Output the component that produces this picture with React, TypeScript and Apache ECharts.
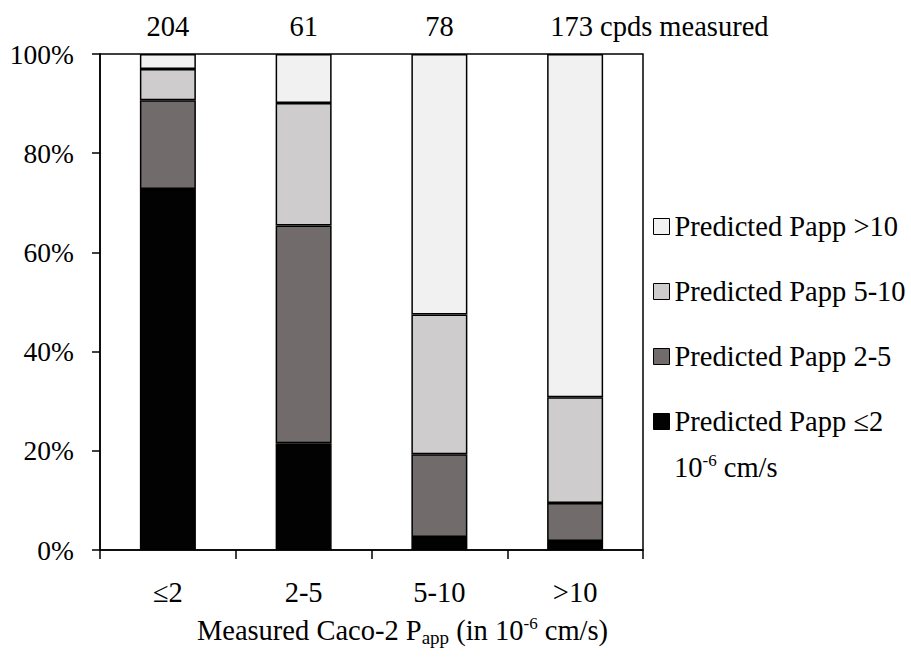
import React, { useEffect, useRef } from "react";
import * as echarts from "echarts";

const categories = ["≤2", "2-5", "5-10", ">10"];
const countsMeasured = [204, 61, 78, 173];
const seriesNames = [
  "Predicted Papp ≤2",
  "Predicted Papp 2-5",
  "Predicted Papp 5-10",
  "Predicted Papp >10",
];
const predLe2 = [72.8, 21.5, 2.6, 1.8];
const pred2to5 = [17.9, 43.9, 16.7, 7.7];
const pred5to10 = [6.3, 24.7, 28.2, 21.3];
const predGt10 = [3.0, 9.9, 52.5, 69.2];
const yTicks = [0, 20, 40, 60, 80, 100];

const colors = ["#020202", "#716b6b", "#cecccd", "#f1f1f1"];
const FONT = "Liberation Serif";

export default function App() {
  const ref = useRef<HTMLDivElement>(null);
  useEffect(() => {
    if (!ref.current) return;
    const chart = echarts.init(ref.current, null, { renderer: "svg" });
    const values = [predLe2, pred2to5, pred5to10, predGt10];
    const series = values.map((vals, si) => ({
      name: seriesNames[si],
      type: "bar",
      stack: "total",
      barWidth: 56,
      itemStyle: { color: colors[si], borderColor: "#000", borderWidth: 1.5 },
      data: vals.map((v, i) => {
        if (si !== 3) return v;
        const last = i === vals.length - 1;
        return {
          value: v,
          label: {
            show: true,
            position: "top",
            distance: 13,
            formatter: last ? `${countsMeasured[i]} cpds measured` : `${countsMeasured[i]}`,
            fontFamily: FONT,
            fontSize: 28.5,
            color: "#000",
            ...(last ? { align: "left", offset: [-25, 0] } : {}),
          },
        };
      }),
    }));
    chart.setOption({
      animation: false,
      textStyle: { fontFamily: FONT },
      grid: {
        left: 100,
        right: 268,
        top: 54,
        bottom: 114,
        show: true,
        borderColor: "#000",
        borderWidth: 1.5,
        backgroundColor: "transparent",
      },
      legend: {
        orient: "vertical",
        left: 653,
        top: 212,
        padding: 0,
        itemWidth: 16,
        itemHeight: 16,
        itemGap: 36,
        icon: "rect",
        data: [seriesNames[3], seriesNames[2], seriesNames[1], seriesNames[0]],
        textStyle: { fontFamily: FONT, fontSize: 28.5, color: "#000" },
        itemStyle: { borderColor: "#000", borderWidth: 1 },
      },
      xAxis: {
        type: "category",
        data: categories,
        axisLine: { lineStyle: { color: "#000", width: 1.5 } },
        axisTick: { show: true, length: 9, lineStyle: { color: "#000", width: 1.5 } },
        axisLabel: { fontFamily: FONT, fontSize: 28.5, color: "#000", margin: 28 },
        name: "{a|Measured Caco-2 P}{sub|app}{a| (in 10}{sup|-6}{a| cm/s)}",
        nameLocation: "middle",
        nameGap: 64,
        nameTextStyle: {
          padding: [0, 0, 0, 62],
          rich: {
            a: { fontFamily: FONT, fontSize: 28.5, color: "#000" },
            sub: { fontFamily: FONT, fontSize: 19, color: "#000", padding: [14, 0, 0, 0] },
            sup: { fontFamily: FONT, fontSize: 17, color: "#000", padding: [0, 0, 14, 0] },
          },
        },
      },
      yAxis: {
        type: "value",
        min: yTicks[0],
        max: yTicks[yTicks.length - 1],
        interval: 20,
        splitLine: { show: false },
        axisLine: { show: true, lineStyle: { color: "#000", width: 1.5 } },
        axisTick: { show: true, length: 8, lineStyle: { color: "#000", width: 1.5 } },
        axisLabel: {
          fontFamily: FONT,
          fontSize: 27.5,
          color: "#000",
          margin: 26,
          formatter: "{value}%",
        },
      },
      graphic: [
        {
          type: "text",
          left: 674,
          top: 452,
          style: {
            text: "{a|10}{sup|-6}{a| cm/s}",
            rich: {
              a: { fontFamily: FONT, fontSize: 28.5, fill: "#000" },
              sup: { fontFamily: FONT, fontSize: 17, fill: "#000", padding: [0, 0, 14, 0] },
            },
          },
        },
      ],
      series,
    });
    return () => chart.dispose();
  }, []);
  return (
    <div
      ref={ref}
      style={{ position: "fixed", left: 0, top: 0, width: 911, height: 664, background: "#fff" }}
    />
  );
}
